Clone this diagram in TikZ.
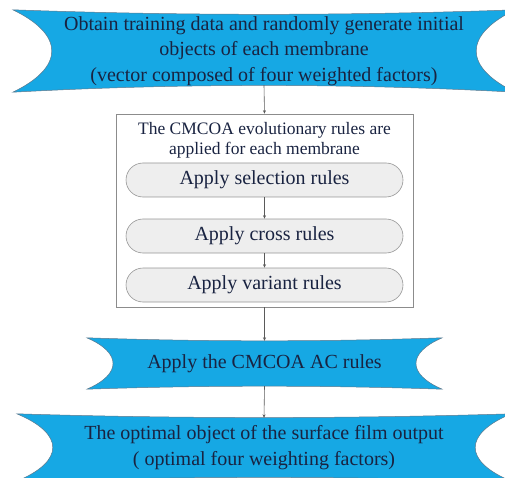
\documentclass[tikz,border=0pt]{standalone}
\usepackage{fontspec}
\setmainfont{Liberation Serif}
\usetikzlibrary{arrows.meta,calc,shapes.misc}

\definecolor{bannerblue}{RGB}{22,168,228}
\definecolor{banneredge}{RGB}{95,120,140}
\definecolor{inktext}{RGB}{25,35,65}
\definecolor{pillfill}{RGB}{238,238,238}
\definecolor{pilledge}{RGB}{150,150,150}
\definecolor{boxedge}{RGB}{140,140,140}
\definecolor{linkgray}{RGB}{90,90,90}

\tikzset{
  bannernode/.style={inner sep=0pt, align=center, text=inktext,
    font=\fontsize{20}{25.5}\selectfont},
  bannerfill/.style={fill=bannerblue, draw=banneredge, line width=0.5pt},
  framebox/.style={draw=boxedge, line width=0.6pt, inner sep=0pt},
  rulepill/.style={rounded rectangle, draw=pilledge, fill=pillfill, line width=0.6pt,
    minimum width=277pt, minimum height=34pt, inner sep=0pt, text=inktext,
    font=\fontsize{20}{24}\selectfont},
  conn/.style={draw=linkgray, line width=0.6pt,
    -{Stealth[length=3.5pt,width=3pt,fill=black!80]}},
}

% banner outline around a node: #2 side depth control, #3 top sag control,
% #4 bottom bulge control, #5 vertical offset of side controls
\newcommand\bannershape[5]{%
  \path[bannerfill] (#1.north west)
    .. controls ($(#1.north west)!0.333!(#1.north east)+(0,-#3)$)
            and ($(#1.north west)!0.667!(#1.north east)+(0,-#3)$) .. (#1.north east)
    .. controls ($(#1.north east)+(-#2,-#5)$) and ($(#1.south east)+(-#2,#5)$) .. (#1.south east)
    .. controls ($(#1.south west)!0.667!(#1.south east)+(0,#4)$)
            and ($(#1.south west)!0.333!(#1.south east)+(0,#4)$) .. (#1.south west)
    .. controls ($(#1.south west)+(#2,#5)$) and ($(#1.north west)+(#2,-#5)$) .. cycle;%
}

\begin{document}
\begin{tikzpicture}[x=1pt,y=1pt]
\useasboundingbox (0,0) rectangle (505,477);

% banner frames (sized nodes, outline drawn afterwards)
\node[minimum width=502pt, minimum height=82pt, inner sep=0pt] (top) at (264,426) {};
\node[minimum width=355pt, minimum height=51pt, inner sep=0pt] (mid) at (264.5,113.5) {};
\node[minimum width=494pt, minimum height=67pt, inner sep=0pt] (bot) at (264,29.5) {};

\bannershape{top}{52}{6}{9}{25}
\bannershape{mid}{35}{4}{4}{15}
\bannershape{bot}{48}{5}{5}{20}

\node[bannernode] (toptext) at (top) {Obtain training data and randomly generate initial\\objects of each membrane\\(vector composed of four weighted factors)};
\node[bannernode] (midtext) at (mid) {Apply the CMCOA AC rules};
\node[bannernode] (bottext) at (bot) {The optimal object of the surface film output\\( optimal four weighting factors)};

% membrane box with its rule steps
\node[framebox, minimum width=297pt, minimum height=193pt] (box) at (264.5,266.5) {};
\node[align=center, text=inktext, font=\fontsize{17.5}{20.5}\selectfont, anchor=north, inner sep=0pt]
  (boxtitle) at ([yshift=-8]box.north) {The CMCOA evolutionary rules are\\applied for each membrane};
\node[rulepill] (sel) at (264.5,297) {Apply selection rules};
\node[rulepill] (cross) at (264.5,241) {Apply cross rules};
\node[rulepill] (var) at (264.5,192) {Apply variant rules};

% connectors
\draw[conn] ([yshift=7]top.south) -- (box.north);
\draw[conn] (sel.south) -- (cross.north);
\draw[conn] (cross.south) -- (var.north);
\draw[conn] (box.south) -- ([yshift=-3]mid.north);
\draw[conn] ([yshift=3]mid.south) -- ([yshift=-4]bot.north);
\end{tikzpicture}
\end{document}
